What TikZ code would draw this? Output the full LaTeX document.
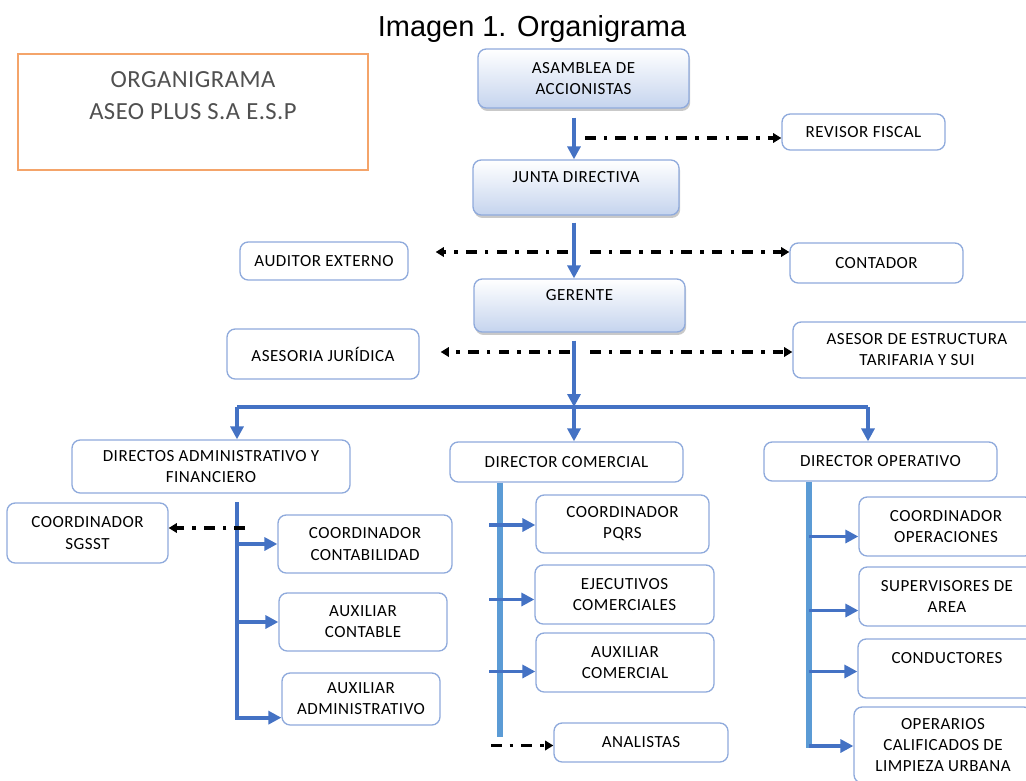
\documentclass[tikz,border=0pt]{standalone}
\usepackage{fontspec}
\setmainfont{Carlito}
\newfontfamily\titlefont{Liberation Sans}
\newfontfamily\boxfont[LetterSpace=3]{Carlito}
\newfontfamily\orgfont[LetterSpace=2]{Carlito}
\usetikzlibrary{arrows.meta,calc,shadows}
\definecolor{arrblue}{HTML}{4472C4}
\definecolor{colblue}{HTML}{5B9BD5}
\definecolor{boxline}{HTML}{8FAADC}
\definecolor{boxfill}{HTML}{C5D4EE}
\definecolor{orgline}{HTML}{F4A46A}
\definecolor{orgtext}{HTML}{505050}
\tikzset{
    sz/.style 2 args={minimum width=#1*0.03cm,minimum height=#2*0.03cm},
    unit/.style={draw=boxline,line width=1.1pt,rounded corners=7pt,fill=white,
        inner sep=0pt,align=center,font=\boxfont\fontsize{14.5}{18}\selectfont},
    headbox/.style={unit,top color=white,bottom color=boxfill,
        drop shadow={shadow xshift=1pt,shadow yshift=-2.5pt,opacity=0.35,fill=black!60}},
    orgbox/.style={draw=orgline,line width=1.2pt,inner sep=0pt,align=center,
        text=orgtext,font=\orgfont\fontsize{21}{28}\selectfont},
    barrow/.style={draw=arrblue,line width=3.4pt,-{Triangle[length=11pt,width=11pt]}},
    bline/.style={draw=arrblue,line width=3.4pt},
    colline/.style={draw=colblue},
    ddarrow/.style={draw=black,line width=3pt,dash pattern=on 9pt off 7pt on 3pt off 7pt,
        -{Triangle[length=7pt,width=8pt]}}
}

\begin{document}
\begin{tikzpicture}[x=0.03cm,y=-0.03cm]
        \useasboundingbox (0,0) rectangle (1026,781);
        \clip (0,0) rectangle (1026,781);
        \fill[white] (0,0) rectangle (1026,781);

        % title and caption box
        \node[font=\titlefont\fontsize{24.7}{30}\selectfont,anchor=base] (title) at (532,36) {Imagen 1. Organigrama};
        \node[orgbox,sz={350}{116}] (org) at (193,112) {ORGANIGRAMA\\ASEO PLUS S.A E.S.P\\\mbox{}};

        % top levels
        \node[headbox,sz={211}{59}] (asamblea) at (583.5,78.5) {ASAMBLEA DE\\ACCIONISTAS};
        \node[headbox,sz={206}{55}] (junta) at (576,187.5) {JUNTA DIRECTIVA\\\mbox{}};
        \node[headbox,sz={211}{53}] (gerente) at (579.5,305.5) {GERENTE\\\mbox{}};
        \node[unit,sz={163}{36}] (revisor) at (863.5,132) {REVISOR FISCAL};
        \node[unit,sz={168}{38}] (auditor) at (324,261) {AUDITOR EXTERNO};
        \node[unit,sz={173}{40}] (contador) at (876.5,263) {CONTADOR};
        \node[unit,sz={192}{50}] (asesoria) at (323,354) {ASESORIA JURÍDICA};
        \node[unit,sz={248}{56}] (tarifaria) at (917,350) {ASESOR DE ESTRUCTURA\\TARIFARIA Y SUI};

        % directors
        \node[unit,sz={278}{53}] (dirAdmin) at (211,466.5) {DIRECTOS ADMINISTRATIVO Y\\FINANCIERO};
        \node[unit,sz={233}{40}] (dirCom) at (566.5,462) {DIRECTOR COMERCIAL};
        \node[unit,sz={233}{39}] (dirOp) at (880.5,461.5) {DIRECTOR OPERATIVO};

        % staff
        \node[unit,sz={161}{60}] (sgsst) at (87.5,533) {COORDINADOR\\SGSST};
        \node[unit,sz={174}{58}] (coordCont) at (365,544) {COORDINADOR\\CONTABILIDAD};
        \node[unit,sz={168}{58}] (auxCont) at (363,622) {AUXILIAR\\CONTABLE};
        \node[unit,sz={158}{52}] (auxAdmin) at (361,699) {AUXILIAR\\ADMINISTRATIVO};
        \node[unit,sz={173}{58}] (pqrs) at (622.5,524) {COORDINADOR\\PQRS};
        \node[unit,sz={179}{59}] (ejecutivos) at (624.5,594.5) {EJECUTIVOS\\COMERCIALES};
        \node[unit,sz={178}{59}] (auxCom) at (625,662.5) {AUXILIAR\\COMERCIAL};
        \node[unit,sz={174}{39}] (analistas) at (641,742.5) {ANALISTAS};
        \node[unit,sz={174}{59}] (coordOp) at (946,526.5) {COORDINADOR\\OPERACIONES};
        \node[unit,sz={176}{59}] (superv) at (947,596.5) {SUPERVISORES DE\\AREA};
        \node[unit,sz={178}{59}] (conductores) at (947,668.5) {CONDUCTORES\\\mbox{}};
        \node[unit,sz={178}{76}] (operarios) at (943,745) {OPERARIOS\\CALIFICADOS DE\\LIMPIEZA URBANA};

        % main line
        \coordinate (spine) at (574,0);
        \coordinate (bar) at (574,407);
        \coordinate (brA) at (237,407);
        \coordinate (brO) at (868,407);
        \draw[barrow] ($(asamblea.south -| spine)+(0,9)$) -- (junta.north -| spine);
        \draw[barrow] ($(junta.south -| spine)+(0,7)$) -- (gerente.north -| spine);
        \draw[barrow] ($(gerente.south -| spine)+(0,8)$) -- (bar);
        \draw[bline] (brA) -- (brO);
        \draw[barrow] (brA) -- (brA |- dirAdmin.north);
        \draw[barrow] (bar) -- (bar |- dirCom.north);
        \draw[barrow] (brO) -- (brO |- dirOp.north);

        % advisory lines
        \coordinate (rf) at (585,138);
        \coordinate (ctL) at (568,252);
        \coordinate (ctR) at (590,252);
        \coordinate (asL) at (570,352);
        \coordinate (asR) at (590,352);
        \draw[ddarrow] (rf) -- (rf -| revisor.west);
        \draw[ddarrow] (ctL) -- ($(ctL -| auditor.east)+(27,0)$);
        \draw[ddarrow] (ctR) -- (ctR -| contador.west);
        \draw[ddarrow] (asL) -- ($(asL -| asesoria.east)+(21,0)$);
        \draw[ddarrow] (asR) -- (asR -| tarifaria.west);

        % administrative column
        \coordinate (colA) at (237,502);
        \coordinate (endA) at ($(auxAdmin.south west)+(0,-8)$);
        \draw[barrow] (colA) |- (endA);
        \draw[barrow] (colA |- coordCont.west) -- (coordCont.west);
        \draw[barrow] (colA |- auxCont.west) -- (auxCont.west);
        \draw[ddarrow] ($(colA |- sgsst.east)+(8,-5)$) -- ($(sgsst.east)+(0,-5)$);

        % commercial column
        \coordinate (colC) at (500,0);
        \draw[colline,line width=5.5pt] (dirCom.south -| colC) -- ($(analistas.north -| colC)+(0,15)$);
        \foreach \n/\dy in {pqrs/1,ejecutivos/5,auxCom/9} {
            \coordinate (t) at ($(\n.west)+(0,\dy)$);
            \draw[barrow] ($(t -| colC)+(-11,0)$) -- (t);
        }
        \draw[ddarrow] ($(analistas.west -| colC)+(-9,3)$) -- ($(analistas.west)+(0,3)$);

        % operative column
        \coordinate (colO) at (809,0);
        \draw[colline,line width=4.5pt] (dirOp.south -| colO) -- ($(operarios.west -| colO)+(0,3)$);
        \foreach \n/\dy in {coordOp/10,superv/14,conductores/3,operarios/1} {
            \coordinate (t) at ($(\n.west)+(0,\dy)$);
            \draw[barrow] (t -| colO) -- (t);
        }
    \end{tikzpicture}
\end{document}
